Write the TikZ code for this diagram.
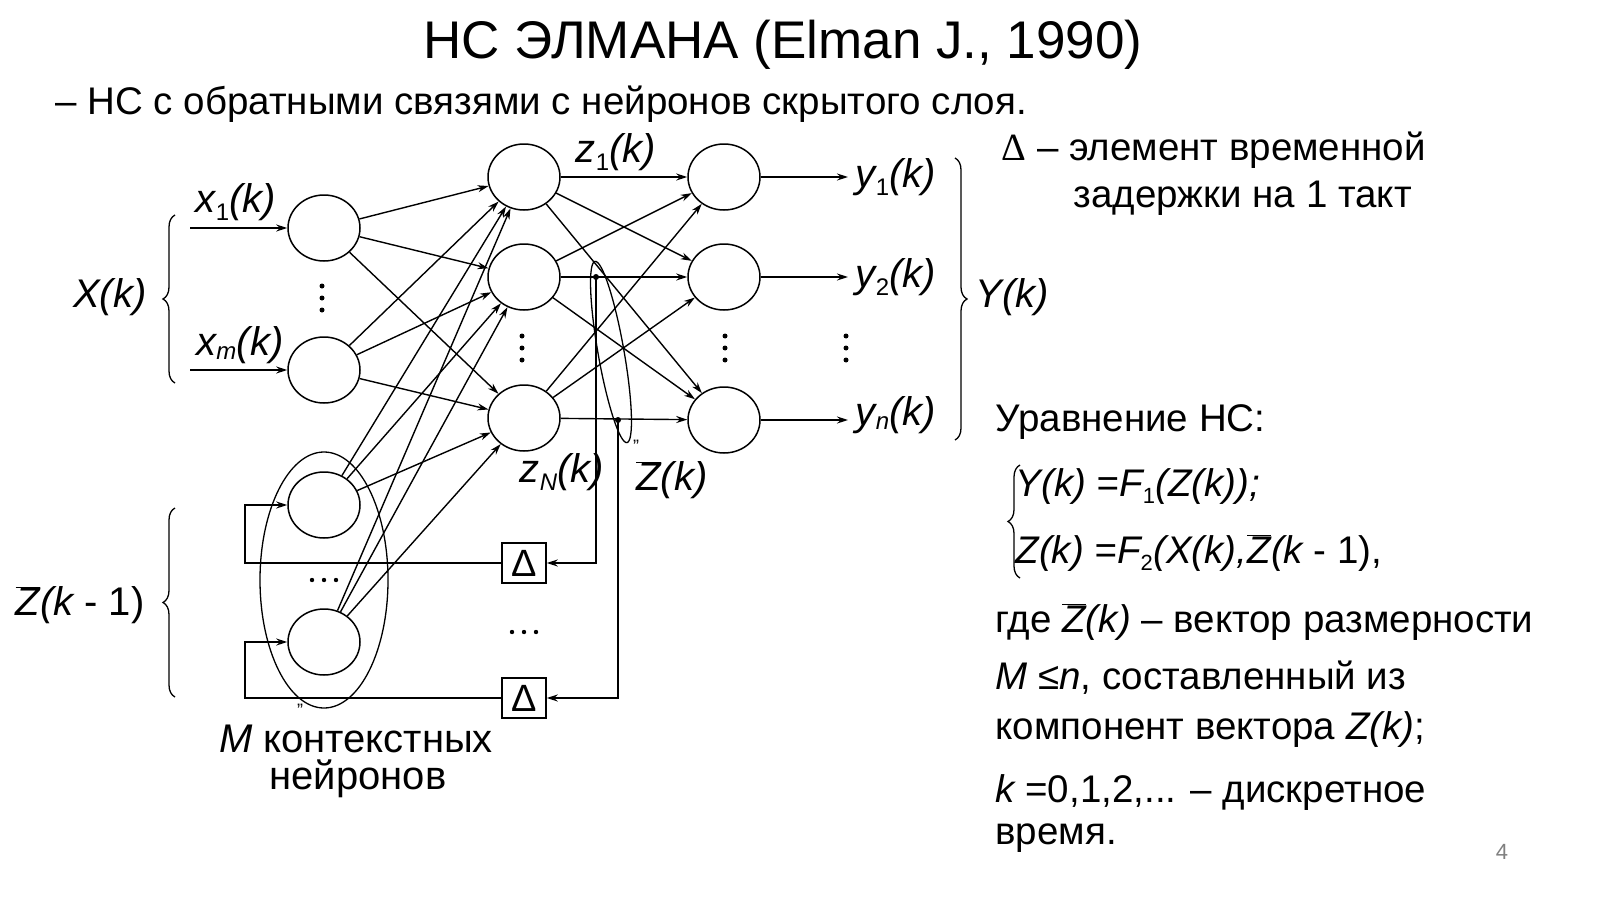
\documentclass[tikz,border=0pt]{standalone}
\usepackage{fontspec}
\setmainfont{Liberation Sans}
\newfontfamily\seriff{Liberation Serif}
\usetikzlibrary{arrows.meta,shapes.geometric,decorations.pathreplacing}
\newcommand\zbr{\ensuremath{\overline{\mbox{\itshape Z}}}}
\begin{document}
\begin{tikzpicture}[x=1pt,y=-1pt,
  neu/.style={draw,ellipse,line width=1.5pt,minimum width=72pt,minimum height=66pt,inner sep=0pt},
  con/.style={-{Stealth[length=11pt,width=7pt]},line width=1.4pt},
  lab/.style={font=\fontsize{40}{44}\selectfont},
  txt/.style={font=\fontsize{38.5}{42}\selectfont,anchor=west},
  dl/.style={draw,line width=1.5pt,minimum width=44pt,minimum height=40pt,inner sep=0pt,font=\fontsize{38}{38}\selectfont},
  br/.style={decorate,decoration={brace,amplitude=12pt},line width=1.3pt}]
\useasboundingbox (0,0) rectangle (1600,899);
\fill[white] (0,0) rectangle (1600,899);
\newcommand\vd[1]{\fill (#1) ++(0,-12) circle (2.5pt) ++(0,12) circle (2.5pt) ++(0,12) circle (2.5pt);}
\newcommand\hd[1]{\fill (#1) ++(-12,0) circle (2.2pt) ++(12,0) circle (2.2pt) ++(12,0) circle (2.2pt);}
% neurons
\node[neu] (i1) at (324,228) {};
\node[neu] (i2) at (324,370) {};
\node[neu] (c1) at (324,505) {};
\node[neu] (c2) at (324,642) {};
\node[neu] (h1) at (524,177) {};
\node[neu] (h2) at (524,277) {};
\node[neu] (h3) at (524,418) {};
\node[neu] (o1) at (724,177) {};
\node[neu] (o2) at (724,277) {};
\node[neu] (o3) at (724,420) {};
\foreach \a in {i1,i2,c1,c2} \foreach \b in {h1,h2,h3} \draw[con] (\a) -- (\b);
\foreach \a in {h1,h2,h3} \foreach \b in {o1,o2,o3} \draw[con] (\a) -- (\b);
% ellipses
\node[draw,ellipse,line width=1.3pt,minimum width=128pt,minimum height=256pt] (ce) at (324,580) {};
\node[draw,ellipse,line width=1.3pt,minimum width=26pt,minimum height=184pt,rotate=10] (ze) at (611,352) {};
% inputs
\coordinate (xa) at (190,228); \coordinate (xb) at (190,370);
\draw[con] (xa) -- (i1); \draw[con] (xb) -- (i2);
\node[lab] (x1) at (236,202) {\itshape x\textsubscript{\upshape\fontsize{24}{24}\selectfont 1}(k)};
\node[lab] (xm) at (240,345) {\itshape x\textsubscript{\fontsize{24}{24}\selectfont m}(k)};
% outputs
\coordinate (ya) at (848,177); \coordinate (yb) at (848,277); \coordinate (yc) at (848,420);
\draw[con] (o1) -- (ya); \draw[con] (o2) -- (yb); \draw[con] (o3) -- (yc);
\node[lab] (y1) at (896,177) {\itshape y\textsubscript{\upshape\fontsize{24}{24}\selectfont 1}(k)};
\node[lab] (y2) at (896,277) {\itshape y\textsubscript{\upshape\fontsize{24}{24}\selectfont 2}(k)};
\node[lab] (yn) at (896,415) {\itshape y\textsubscript{\fontsize{24}{24}\selectfont n}(k)};
% feedback
\node[dl] (d1) at (524,563) {Δ};
\node[dl] (d2) at (524,698) {Δ};
\coordinate (t1) at (596,277); \coordinate (t2) at (618,420);
\fill (t1) circle (3pt); \fill (t2) circle (3pt);
\coordinate (t1b) at (596,563); \coordinate (t2b) at (618,698);
\draw[con] (t1) -- (t1b) -- (d1);
\draw[con] (t2) -- (t2b) -- (d2);
\coordinate (l1) at (245,563); \coordinate (l1u) at (245,505);
\coordinate (l2) at (245,698); \coordinate (l2u) at (245,642);
\draw[con] (d1) -- (l1) -- (l1u) -- (c1);
\draw[con] (d2) -- (l2) -- (l2u) -- (c2);
% dots
\coordinate (v1) at (322,298); \vd{v1}
\coordinate (v2) at (522,348); \vd{v2}
\coordinate (v3) at (725,348); \vd{v3}
\coordinate (v4) at (846,348); \vd{v4}
\coordinate (hd1) at (324,580); \hd{hd1}
\coordinate (hd2) at (524,632); \hd{hd2}
% labels
\node[lab] (z1) at (616,152) {\itshape z\textsubscript{\upshape\fontsize{24}{24}\selectfont 1}(k)};
\node[lab] (zn) at (562,472) {\itshape z\textsubscript{\fontsize{24}{24}\selectfont N}(k)};
\node[lab] (zk) at (672,480) {\zbr\itshape(k)};
\node[font=\fontsize{18}{18}\selectfont,inner sep=0pt] (q1) at (636,446) {''};
\node[font=\fontsize{18}{18}\selectfont,inner sep=0pt] (q2) at (300,710) {''};
\node[lab] (mk) at (356,739) {\itshape M \upshape контекстных};
\node[lab] (ne) at (358,779) {нейронов};
% braces
\draw[br] (175,383) -- (175,215);
\node[lab,anchor=east] (X) at (150,297) {\itshape X(k)};
\draw[br] (175,697) -- (175,508);
\node[lab,anchor=east] (Zk1) at (148,605) {\zbr\itshape(k \upshape - 1)};
\draw[br] (955,158) -- (955,440);
\node[lab,anchor=west] (Y) at (972,297) {\itshape Y(k)};
% title
\node[font=\fontsize{53}{58}\selectfont] (title) at (783,45) {НС ЭЛМАНА (Elman J., 1990)};
\node[txt] (sub) at (52,104) {– НС с обратными связями с нейронов скрытого слоя.};
\node[txt] (r1) at (998,150) {{\seriff Δ} – элемент временной};
\node[txt] (r2) at (1070,198) {задержки на 1 такт};
\node[txt] (r3) at (992,422) {Уравнение НС:};
\draw[br] (1020,578) -- (1020,465);
\node[txt] (e1) at (1012,487) {\itshape Y(k) =F\textsubscript{\upshape\fontsize{22}{22}\selectfont 1}(Z(k));};
\node[txt] (e2) at (1012,553) {\itshape Z(k) =F\textsubscript{\upshape\fontsize{22}{22}\selectfont 2}(X(k),\zbr(k \upshape - 1),};
\node[txt] (r4) at (992,622) {где \zbr\itshape(k)\upshape\ – вектор размерности};
\node[txt] (r5) at (992,678) {\itshape M \upshape ≤\itshape n\upshape, составленный из};
\node[txt] (r6) at (992,730) {компонент вектора \itshape Z(k)\upshape;};
\node[txt] (r7) at (992,793) {\itshape k \upshape =0,1,2,... – дискретное};
\node[txt] (r8) at (992,838) {время.};
\node[font=\fontsize{22}{22}\selectfont,text=gray] (pg) at (1502,852) {4};
\end{tikzpicture}
\end{document}
